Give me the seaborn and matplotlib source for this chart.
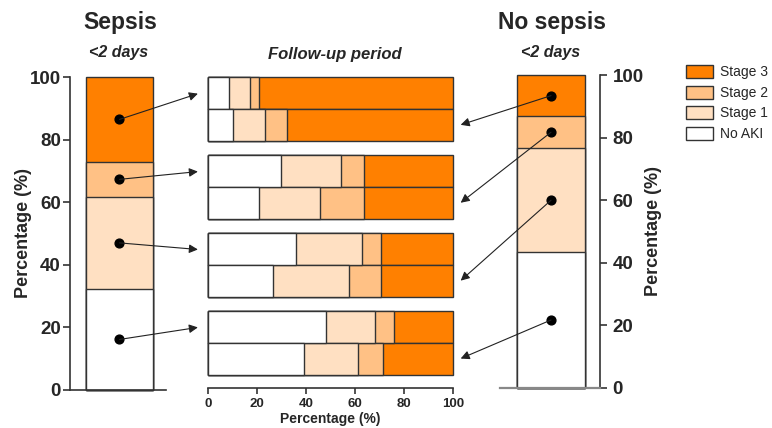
import numpy as np
import pandas as pd
import matplotlib
matplotlib.use("Agg")
import matplotlib.pyplot as plt
from matplotlib.patches import Patch, ConnectionPatch
import seaborn as sns

# stage order bottom -> top (left -> right in the follow-up bars)
stages = ["No AKI", "Stage 1", "Stage 2", "Stage 3"]
colors = ["#FFFFFF", "#FFE0C2", "#FFC185", "#FF8000"]

# share of each stage at <2 days (%)
sepsis_early = [32.3, 29.4, 11.2, 27.1]
nosepsis_early = [43.3, 33.3, 10.2, 13.2]

# follow-up period, one row per stage reached at <2 days (top group first)
groups = ["Stage 3", "Stage 2", "Stage 1", "No AKI"]
sepsis_follow = [
    [8.5, 8.8, 3.4, 79.3],
    [29.7, 24.6, 9.2, 36.5],
    [35.8, 27.0, 7.9, 29.3],
    [48.2, 19.8, 7.8, 24.2],
]
nosepsis_follow = [
    [10.3, 13.2, 8.8, 67.7],
    [21.0, 24.6, 18.2, 36.2],
    [26.6, 31.1, 13.0, 29.3],
    [39.3, 21.9, 10.3, 28.5],
]
pct_ticks = [0, 20, 40, 60, 80, 100]

EDGE = "#333333"
W, H = 772, 428

sns.set_style("ticks")
plt.rcParams["font.family"] = ["Liberation Sans", "DejaVu Sans"]
plt.rcParams["axes.edgecolor"] = EDGE
plt.rcParams["axes.linewidth"] = 1.2


def px_box(x0, y_bottom, x1, y_top):
    return [x0 / W, 1 - y_bottom / H, (x1 - x0) / W, (y_bottom - y_top) / H]


def early_bar(ax, shares, name):
    cum = np.cumsum(shares)
    for i in range(3, -1, -1):
        sns.barplot(x=[name], y=[cum[i]], color=colors[i], saturation=1,
                    width=0.7, edgecolor=EDGE, linewidth=1, ax=ax)
    for p in ax.patches:
        p.set_clip_on(False)
    mids = cum - np.array(shares) / 2
    ax.scatter(np.zeros(len(mids)), mids, s=40, color="black", zorder=5)
    ax.set_ylim(0, 100)
    ax.set_yticks(pct_ticks)
    ax.set_yticklabels([str(t) for t in pct_ticks], fontsize=13.5, fontweight="bold")
    ax.set_xticks([])
    ax.set_xlabel("")
    ax.set_ylabel("Percentage (%)", fontsize=13, fontweight="bold")
    ax.tick_params(axis="y", length=5, width=1.2, color=EDGE)
    ax.spines["top"].set_visible(False)
    return mids


fig = plt.figure(figsize=(W / 100, H / 100), dpi=100)

# left: sepsis <2 days
axl = fig.add_axes(px_box(70, 390, 166, 77))
left_mids = early_bar(axl, sepsis_early, "Sepsis")
axl.set_xlim(-0.517, 0.486)
axl.spines["right"].set_visible(False)
axl.tick_params(axis="y", pad=1.5)
axl.yaxis.set_label_coords(-0.40, 0.5)

# right: no sepsis <2 days
axr = fig.add_axes(px_box(500, 387.7, 600, 75))
right_mids = early_bar(axr, nosepsis_early, "No sepsis")
axr.set_xlim(-0.525, 0.504)
axr.spines["left"].set_visible(False)
axr.spines["bottom"].set_color("#888888")
axr.spines["bottom"].set_linewidth(1.6)
axr.yaxis.tick_right()
axr.yaxis.set_label_position("right")
axr.tick_params(axis="y", pad=4)
axr.yaxis.set_label_coords(1.45, 0.5)

# middle: follow-up period
rows = []
for g, s, n in zip(groups, sepsis_follow, nosepsis_follow):
    for cohort, vals in (("Sepsis", s), ("No sepsis", n)):
        row = {"group": g, "cohort": cohort}
        row.update(dict(zip(stages, np.cumsum(vals))))
        rows.append(row)
df = pd.DataFrame(rows)

axm = fig.add_axes(px_box(207.7, 388, 453.3, 74.2))
for i in range(3, -1, -1):
    sns.barplot(data=df, x=stages[i], y="group", hue="cohort", order=groups,
                hue_order=["Sepsis", "No sepsis"], palette=[colors[i]] * 2,
                saturation=1, width=0.82, gap=0, edgecolor=EDGE, linewidth=1,
                errorbar=None, legend=False, orient="h", ax=axm)
for p in axm.patches:
    p.set_clip_on(False)
axm.set_xlim(0, 100)
axm.set_ylim(3.578, -0.45)
axm.set_yticks([])
axm.set_ylabel("")
axm.set_xticks(pct_ticks)
axm.set_xticklabels([str(t) for t in pct_ticks], fontsize=9.5, fontweight="bold")
axm.set_xlabel("Percentage (%)", fontsize=10, fontweight="bold", labelpad=2)
axm.tick_params(axis="x", length=4, width=1.2, color=EDGE, pad=3)
for side in ("left", "top", "right"):
    axm.spines[side].set_visible(False)

# arrows from the <2 days stage to its follow-up bar
for j, g in enumerate(groups):
    k = stages.index(g)
    for ax_src, y_src, xb, yb in ((axl, left_mids[k], -4, j - 0.2),
                                  (axr, right_mids[k], 103, j + 0.2)):
        con = ConnectionPatch(xyA=(0, y_src), coordsA=ax_src.transData,
                              xyB=(xb, yb), coordsB=axm.transData,
                              arrowstyle="-|>", mutation_scale=13, lw=0.8,
                              color="#222222", shrinkA=0, shrinkB=0)
        fig.add_artist(con)

# titles
fig.text(120 / W, 1 - 22 / H, "Sepsis", ha="center", va="center",
         fontsize=16.5, fontweight="bold")
fig.text(119 / W, 1 - 52 / H, "<2 days", ha="center", va="center",
         fontsize=11.5, fontweight="bold", style="italic")
fig.text(552 / W, 1 - 22 / H, "No sepsis", ha="center", va="center",
         fontsize=16.5, fontweight="bold")
fig.text(551 / W, 1 - 52 / H, "<2 days", ha="center", va="center",
         fontsize=11.5, fontweight="bold", style="italic")
fig.text(335 / W, 1 - 55 / H, "Follow-up period", ha="center", va="center",
         fontsize=12, fontweight="bold", style="italic")

handles = [Patch(facecolor=colors[i], edgecolor=EDGE, linewidth=1, label=stages[i])
           for i in range(3, -1, -1)]
fig.legend(handles=handles, loc="upper left", bbox_to_anchor=(686 / W, 1 - 65 / H),
           frameon=False, fontsize=10, handlelength=1.95, handleheight=1.08,
           labelspacing=0.45, handletextpad=0.5, borderpad=0, borderaxespad=0)

fig.savefig("out.png", dpi=100)
plt.close(fig)
